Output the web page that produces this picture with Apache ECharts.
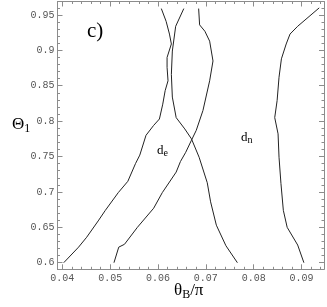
<!DOCTYPE html>
<html><head><meta charset="utf-8">
<script src="https://cdn.jsdelivr.net/npm/echarts@6/dist/echarts.min.js"></script>
<style>html,body{margin:0;padding:0;background:#fff}#c{width:327px;height:307px}</style>
</head><body><div id="c"></div>
<script>
var xTicks = [0.04, 0.05, 0.06, 0.07, 0.08, 0.09];
var yTicks = [0.6, 0.65, 0.7, 0.75, 0.8, 0.85, 0.9, 0.95];
var curveDeLeft = [[0.0403,0.600],[0.0434,0.622],[0.0451,0.636],[0.0475,0.659],[0.0490,0.674],[0.0517,0.699],[0.0537,0.715],[0.0553,0.740],[0.0562,0.752],[0.0575,0.780],[0.0591,0.794],[0.0603,0.803],[0.0610,0.824],[0.0615,0.843],[0.0621,0.857],[0.0619,0.876],[0.0619,0.890],[0.0628,0.909],[0.0624,0.923],[0.0617,0.941],[0.0607,0.959]];
var curveA = [[0.0508,0.600],[0.0518,0.622],[0.0530,0.626],[0.0557,0.650],[0.0591,0.677],[0.0609,0.699],[0.0638,0.728],[0.0647,0.743],[0.0658,0.756],[0.0670,0.773],[0.0680,0.787],[0.0694,0.815],[0.0708,0.857],[0.0715,0.885],[0.0708,0.913],[0.0698,0.927],[0.0687,0.936],[0.0685,0.959]];
var curveB = [[0.0654,0.959],[0.0637,0.934],[0.0630,0.899],[0.0628,0.866],[0.0630,0.834],[0.0638,0.805],[0.0656,0.789],[0.0670,0.775],[0.0686,0.749],[0.0703,0.713],[0.0710,0.686],[0.0722,0.653],[0.0742,0.624],[0.0766,0.600]];
var curveDn = [[0.0905,0.600],[0.0892,0.625],[0.0870,0.650],[0.0862,0.674],[0.0857,0.712],[0.0853,0.749],[0.0851,0.782],[0.0844,0.805],[0.0849,0.829],[0.0853,0.862],[0.0858,0.888],[0.0868,0.909],[0.0876,0.923],[0.0892,0.934],[0.0937,0.960]];

var xMin = 0.039, xMax = 0.0947, yMin = 0.5907, yMax = 0.969;
var xMinor = [], yMinor = [];
for (var i = 0; i <= 27; i++) xMinor.push(+(0.04 + i * 0.002).toFixed(3));
for (var j = 0; j <= 36; j++) yMinor.push(+(0.6 + j * 0.01).toFixed(2));

var frameCol = '#8c8c8c';
function fmt(v){ return String(+(+v).toFixed(3)); }
function mkX(pos, values, len, labels, line) {
  return {type:'value', min:xMin, max:xMax, position:pos,
    axisLine:{show:line, onZero:false, lineStyle:{color:frameCol, width:1}},
    axisTick:{show:true, inside:true, length:len, customValues:values, lineStyle:{color:frameCol}},
    axisLabel:{show:labels, customValues:values, formatter:fmt, color:'#555', fontFamily:'Liberation Mono', fontSize:10, margin:4},
    splitLine:{show:false}};
}
function mkY(pos, values, len, labels, line) {
  return {type:'value', min:yMin, max:yMax, position:pos,
    axisLine:{show:line, onZero:false, lineStyle:{color:frameCol, width:1}},
    axisTick:{show:true, inside:true, length:len, customValues:values, lineStyle:{color:frameCol}},
    axisLabel:{show:labels, customValues:values, formatter:fmt, color:'#555', fontFamily:'Liberation Mono', fontSize:10, margin:3},
    splitLine:{show:false}};
}
function mkLine(d){
  return {type:'line', data:d, xAxisIndex:0, yAxisIndex:0, showSymbol:false, symbol:'none',
    lineStyle:{color:'#222', width:1}, silent:true, animation:false, z:5};
}
var chart = echarts.init(document.getElementById('c'), null, {renderer:'canvas'});
chart.setOption({
  animation:false,
  grid:{left:57.5, right:3, top:1.5, bottom:37.7, containLabel:false},
  xAxis:[mkX('bottom', xTicks, 5, true, true), mkX('bottom', xMinor, 2.5, false, false),
         mkX('top', xTicks, 5, false, true), mkX('top', xMinor, 2.5, false, false)],
  yAxis:[mkY('left', yTicks, 5, true, true), mkY('left', yMinor, 2.5, false, false),
         mkY('right', yTicks, 5, false, true), mkY('right', yMinor, 2.5, false, false)],
  series:[mkLine(curveDeLeft), mkLine(curveA), mkLine(curveB), mkLine(curveDn)],
  graphic:[
    {type:'text', left:87, top:21, style:{text:'c)', font:'21px "Liberation Serif"', fill:'#000'}},
    {type:'text', left:157, top:144, style:{text:'d{s|e}', font:'13px "Liberation Serif"', fill:'#000',
      rich:{s:{fontSize:10, fontFamily:'Liberation Serif', verticalAlign:'bottom', padding:[5,0,0,0]}}}},
    {type:'text', left:241, top:131, style:{text:'d{s|n}', font:'13px "Liberation Serif"', fill:'#000',
      rich:{s:{fontSize:10, fontFamily:'Liberation Serif', verticalAlign:'bottom', padding:[5,0,0,0]}}}},
    {type:'text', left:12, top:116, style:{text:'Θ{s|1}', font:'17px "Liberation Serif"', fill:'#000',
      rich:{s:{fontSize:12, fontFamily:'Liberation Serif', verticalAlign:'bottom', padding:[8,0,0,0]}}}},
    {type:'text', left:174, top:282, style:{text:'θ{s|B}/π', font:'17px "Liberation Serif"', fill:'#000',
      rich:{s:{fontSize:12, fontFamily:'Liberation Serif', verticalAlign:'bottom', padding:[8,0,0,0]}}}}
  ]
});
</script></body></html>
